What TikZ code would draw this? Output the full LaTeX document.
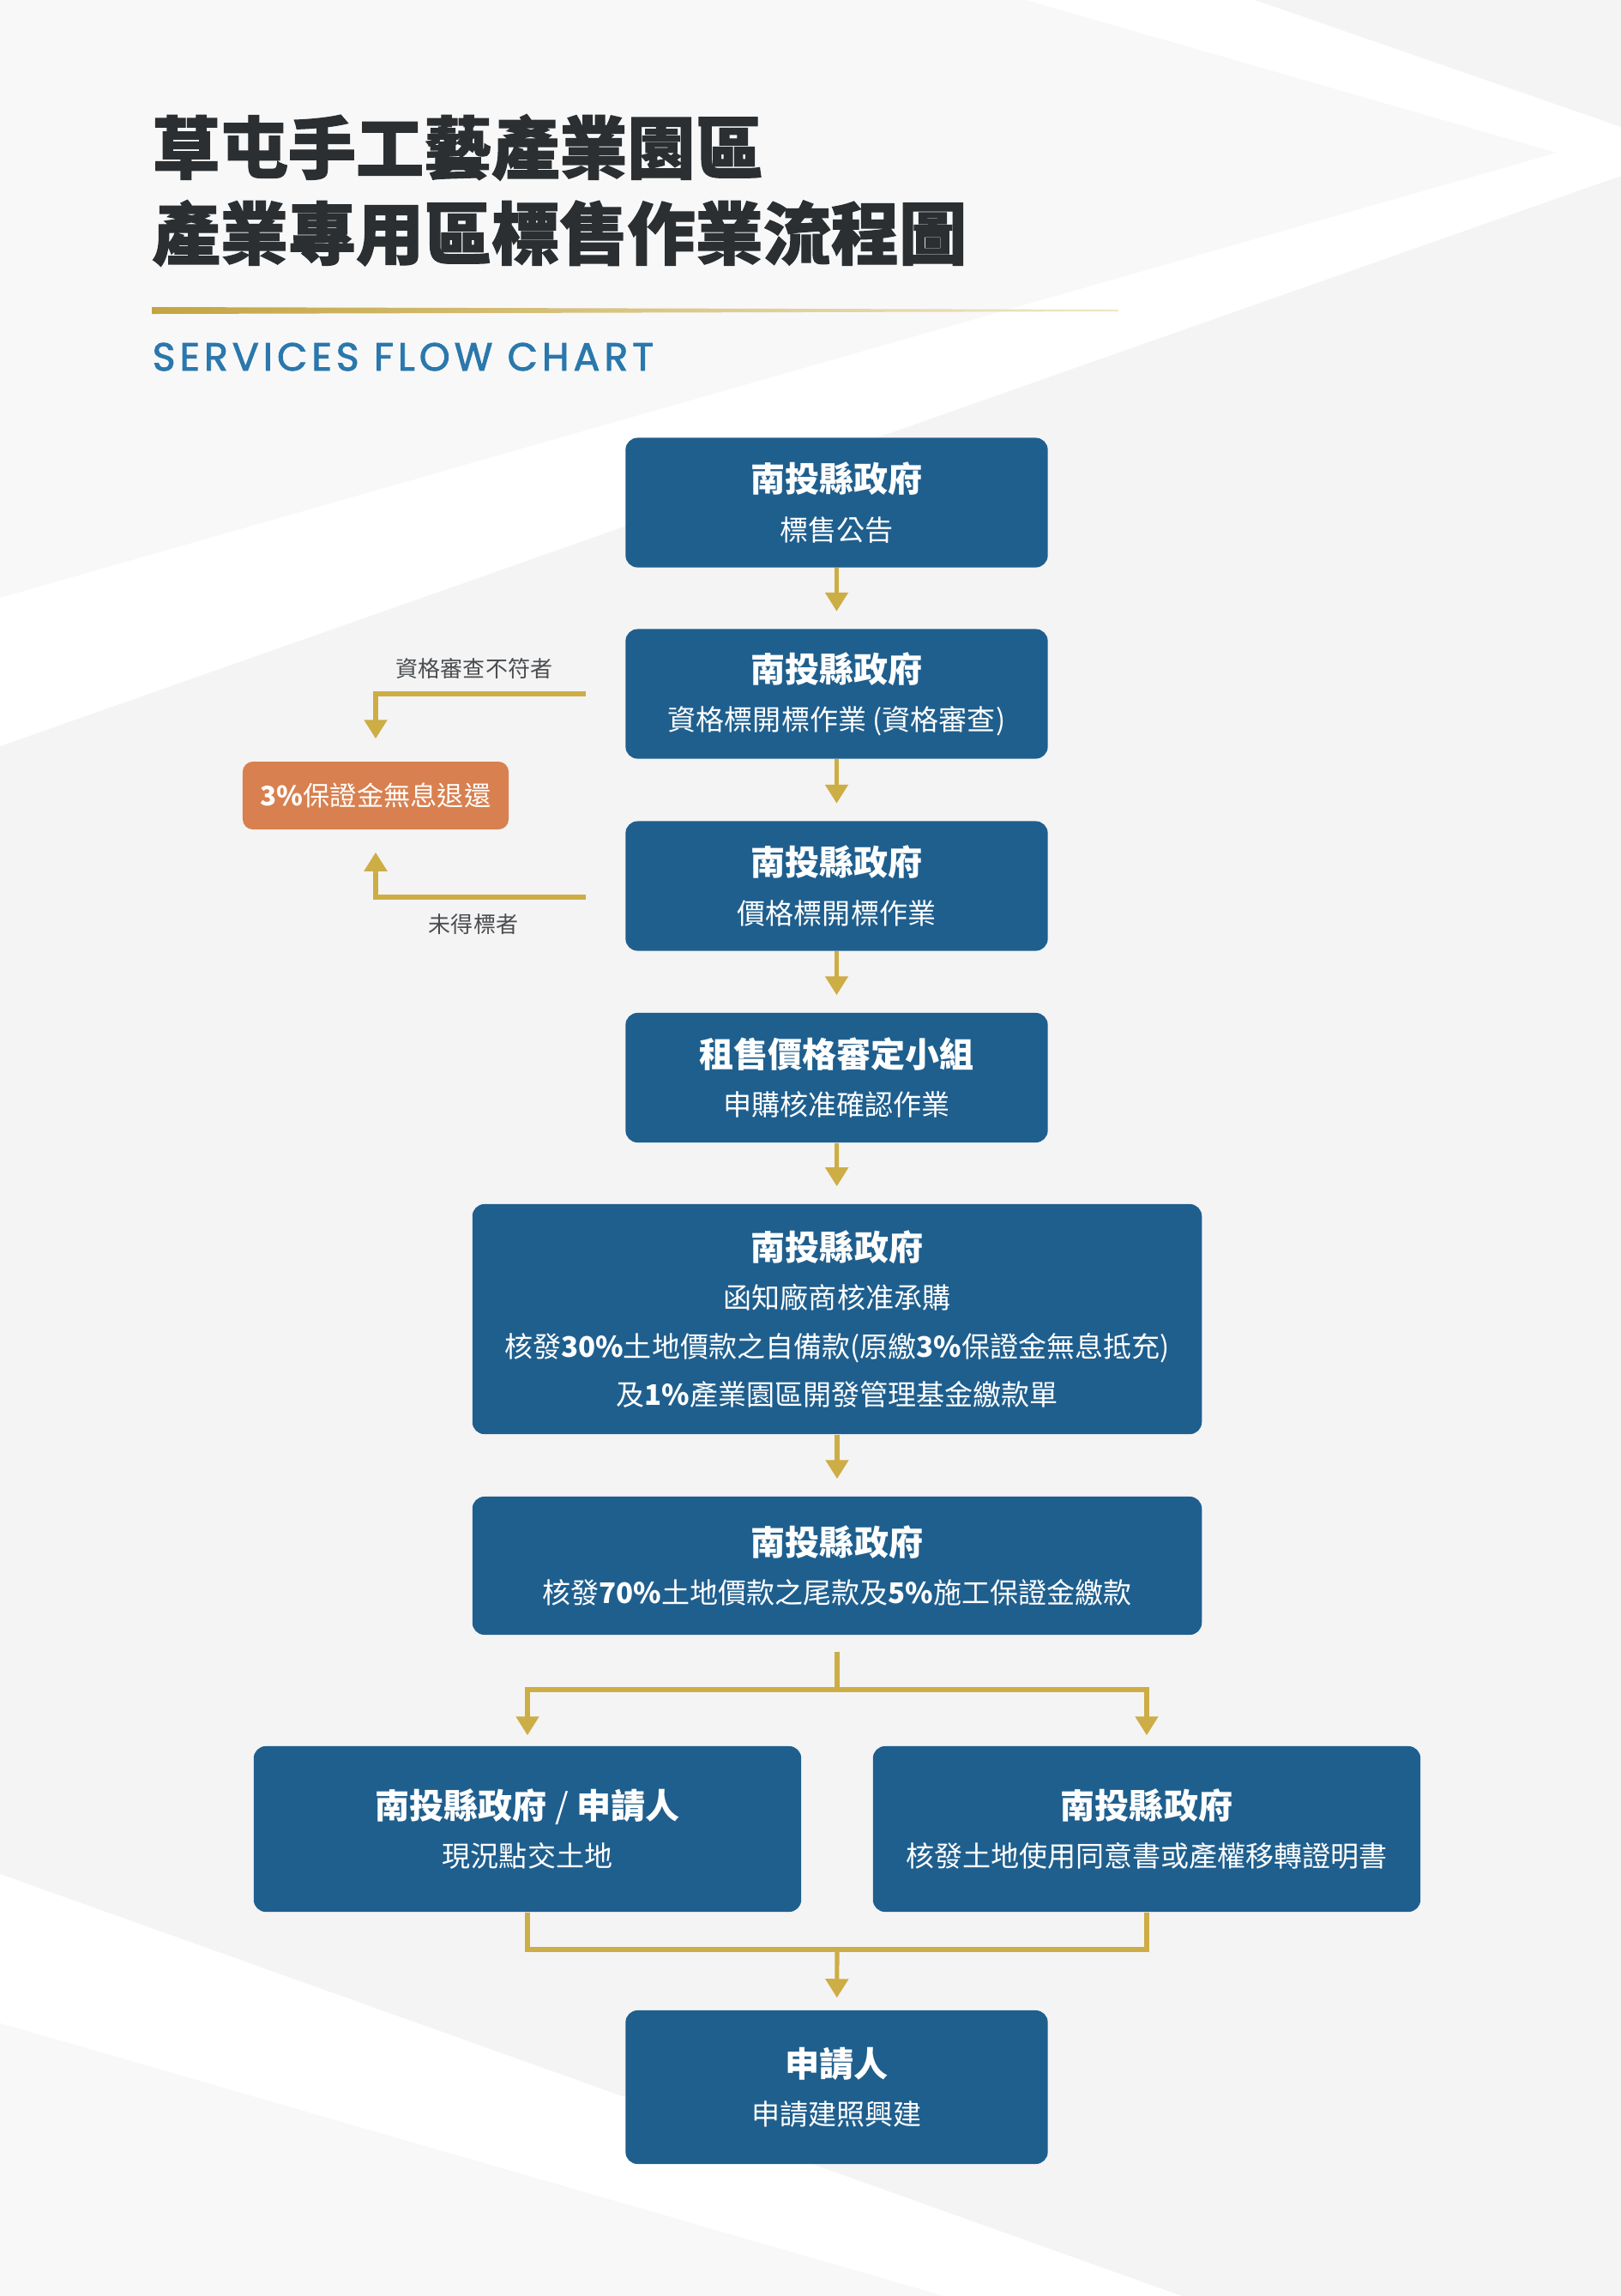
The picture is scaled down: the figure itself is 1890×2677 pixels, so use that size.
\documentclass[tikz,border=0pt]{standalone}
\usepackage{fontspec}
\setmainfont{Noto Sans CJK TC}
\newfontfamily\heavy{Noto Sans CJK TC}[BoldFeatures={FakeBold=1.6}]
\newfontfamily\latin{Poppins}[LetterSpace=11,FakeBold=2]
\usetikzlibrary{arrows.meta}
\definecolor{navy}{HTML}{1F5F8E}
\definecolor{gold}{HTML}{CDAD45}
\definecolor{orange}{HTML}{D8804F}
\definecolor{ink}{HTML}{2B2F31}
\definecolor{sky}{HTML}{2A78AC}
\definecolor{paper}{HTML}{F4F4F5}
\definecolor{mist}{HTML}{F8F8F9}
\newcommand{\stagehead}[1]{{\bfseries\fontsize{11.4}{16}\selectfont #1}}

\begin{document}
\begin{tikzpicture}[x=0.01cm,y=-0.01cm,
  stage/.style={rectangle,rounded corners=1.4mm,fill=navy,text=white,align=center,
    inner sep=0pt,font=\fontsize{9.4}{16}\selectfont},
  narrow/.style={stage,minimum width=4.92cm,minimum height=1.51cm},
  wide/.style={stage,minimum width=8.5cm},
  half/.style={stage,minimum width=6.38cm,minimum height=1.93cm},
  refund/.style={rectangle,rounded corners=1.2mm,fill=orange,text=white,inner sep=0pt,
    minimum width=3.1cm,minimum height=0.79cm,font=\fontsize{8.9}{10}\selectfont},
  note/.style={text=ink!85,inner sep=0pt,font=\fontsize{7.4}{9}\selectfont},
  flow/.style={-{Triangle[length=2.2mm,width=2.6mm]},line width=1.45pt,gold,shorten >=2mm},
  link/.style={line width=1.45pt,gold}]
  \useasboundingbox (0,0) rectangle (1890,2677);
  % background bands
  \fill[paper] (0,0) rectangle (1890,2677);
  \fill[mist] (0,0) -- (1196,0) -- (1815,178) -- (0,697) -- cycle;
  \fill[white] (1196,0) -- (1463,0) -- (1890,148) -- (1890,205) -- (0,870)
    -- (0,697) -- (1815,178) -- cycle;
  \fill[white] (0,2185) -- (1378,2677) -- (1100,2677) -- (0,2359) -- cycle;
  \fill[mist] (0,2359) -- (1100,2677) -- (0,2677) -- cycle;

  \node[anchor=base west,inner sep=0pt,text=ink,font=\heavy\bfseries\fontsize{22.5}{28}\selectfont]
    (title1) at (177,202) {草屯手工藝產業園區};
  \node[anchor=base west,inner sep=0pt,text=ink,font=\heavy\bfseries\fontsize{22.5}{28}\selectfont]
    (title2) at (177,302) {產業專用區標售作業流程圖};
  \shade[left color=gold!95!black,right color=gold!30!white]
    (177,358) -- (1304,361) -- (1304,363) -- (177,366) -- cycle;
  \node[anchor=base west,inner sep=0pt,text=sky,font=\latin\fontsize{13}{15}\selectfont]
    (subtitle) at (177,432) {SERVICES FLOW CHART};

  \node[narrow] (notice) at (975.5,586) {\stagehead{南投縣政府}\\標售公告};
  \node[narrow] (qual) at (975.5,809) {\stagehead{南投縣政府}\\資格標開標作業 (資格審查)};
  \node[narrow] (price) at (975.5,1033) {\stagehead{南投縣政府}\\價格標開標作業};
  \node[narrow] (review) at (975.5,1256.5) {\stagehead{租售價格審定小組}\\申購核准確認作業};
  \node[wide,minimum height=2.68cm] (approve) at (976,1538)
    {\stagehead{南投縣政府}\\函知廠商核准承購\\
     核發\textbf{30\%}土地價款之自備款(原繳\textbf{3\%}保證金無息抵充)\\
     及\textbf{1\%}產業園區開發管理基金繳款單};
  \node[wide,minimum height=1.61cm] (payment) at (976,1825.5)
    {\stagehead{南投縣政府}\\核發\textbf{70\%}土地價款之尾款及\textbf{5\%}施工保證金繳款};
  \node[half] (handover) at (615,2132.5) {\stagehead{南投縣政府 {\mdseries /} 申請人}\\現況點交土地};
  \node[half] (permit) at (1337,2132.5) {\stagehead{南投縣政府}\\核發土地使用同意書或產權移轉證明書};
  \node[narrow,minimum height=1.79cm] (build) at (975.5,2433.5) {\stagehead{申請人}\\申請建照興建};

  \node[refund] (refund) at (438,927.5) {\textbf{3\%}保證金無息退還};
  \node[note] (failtxt) at (553,780) {資格審查不符者};
  \node[note] (losttxt) at (552,1078) {未得標者};

  \draw[flow] (notice) -- (qual); \draw[flow] (qual) -- (price);
  \draw[flow] (price) -- (review); \draw[flow] (review) -- (approve);
  \draw[flow] (approve) -- (payment);

  \coordinate (failq) at (683,809);
  \coordinate (lost) at (683,1046);
  \draw[flow,shorten >=2.6mm] (failq) -| (refund);
  \draw[flow,shorten >=2.6mm] (lost) -| (refund);

  \coordinate (split) at (976,1926);
  \coordinate (fork) at (976,1970);
  \draw[link] (split) -- (fork);
  \draw[flow,shorten >=1.2mm] (fork) -| (handover);
  \draw[flow,shorten >=1.2mm] (fork) -| (permit);

  \coordinate (join) at (976,2273);
  \draw[link] (handover) |- (join);
  \draw[link] (permit) |- (join);
  \draw[flow,shorten >=1.4mm] (join) -- (build);
\end{tikzpicture}
\end{document}
